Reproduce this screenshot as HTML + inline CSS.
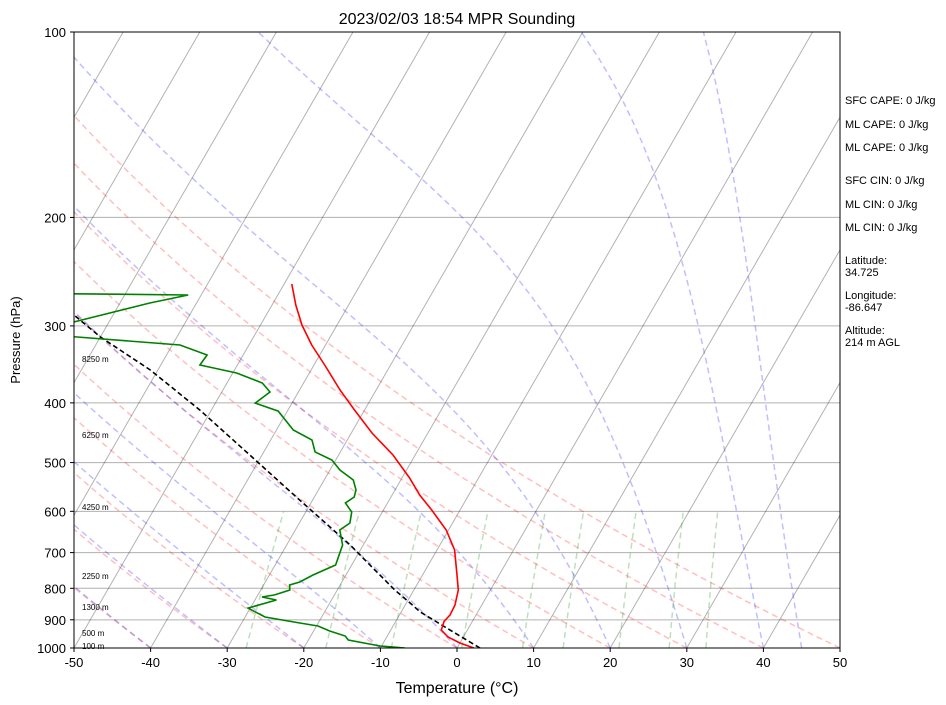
<!DOCTYPE html>
<html><head><meta charset="utf-8">
<style>
body{margin:0;background:#fff;font-family:"Liberation Sans","DejaVu Sans",sans-serif;}
svg{display:block}
</style></head>
<body>
<svg id="chart" width="946" height="705" viewBox="0 0 946 705" xmlns="http://www.w3.org/2000/svg">
<defs><clipPath id="plotclip"><rect x="74" y="32" width="766" height="616"/></clipPath></defs>
<rect x="0" y="0" width="946" height="705" fill="#fff"/>
<g id="bg" clip-path="url(#plotclip)"></g>
<g id="series" clip-path="url(#plotclip)"></g>
<rect x="74" y="32" width="766" height="616" fill="none" stroke="#000" stroke-width="1"/>
<g id="axes"></g>
<text x="457" y="24" text-anchor="middle" font-size="16">2023/02/03 18:54 MPR Sounding</text>
<text x="457" y="693" text-anchor="middle" font-size="16">Temperature (°C)</text>
<text transform="translate(20,340) rotate(-90)" text-anchor="middle" font-size="13">Pressure (hPa)</text>
<g font-size="11">
<text x="845" y="104">SFC CAPE: 0 J/kg</text>
<text x="845" y="128">ML CAPE: 0 J/kg</text>
<text x="845" y="151">ML CAPE: 0 J/kg</text>
<text x="845" y="184">SFC CIN: 0 J/kg</text>
<text x="845" y="208">ML CIN: 0 J/kg</text>
<text x="845" y="231">ML CIN: 0 J/kg</text>
<text x="845" y="264">Latitude:</text>
<text x="845" y="276">34.725</text>
<text x="845" y="299">Longitude:</text>
<text x="845" y="311">-86.647</text>
<text x="845" y="334">Altitude:</text>
<text x="845" y="346">214 m AGL</text>
</g>
<g font-size="8">
<text x="82" y="362">8250 m</text>
<text x="82" y="438">6250 m</text>
<text x="82" y="510">4250 m</text>
<text x="82" y="579">2250 m</text>
<text x="82" y="610">1300 m</text>
<text x="82" y="636">500 m</text>
<text x="82" y="649">100 m</text>
</g>
</svg>
<script>
const tempP = [256.5,277.4,298.9,322.2,347.2,381.3,410.9,447.7,486.0,529.7,564.5,597.0,643.3,693.3,761.3,805.0,851.6,884.0,905.0,935.0,959.7,981.5,1000];
const tempT = [-49.0,-46.9,-44.6,-41.8,-38.6,-34.7,-31.3,-27.3,-22.9,-19.0,-16.4,-13.7,-10.3,-7.7,-5.5,-4.2,-3.5,-3.4,-3.7,-3.4,-2.0,0.0,2.2];
const dewP = [265.3,267.3,275.4,295.6,309.3,322.2,334.5,347.2,357.7,371.3,384.1,400.3,412.5,442.7,459.6,480.6,495.2,514.1,533.7,554.0,568.7,581.6,601.5,626.8,643.3,680.5,733.3,761.3,781.4,790.1,805.0,820.1,826.3,835.7,861.3,890.7,910.9,921.0,938.5,956.1,970.5,992.5,1000];
const dewT = [-86.4,-61.7,-66.1,-74.6,-78.1,-59.0,-54.7,-54.9,-49.5,-45.4,-43.7,-44.8,-41.2,-37.8,-34.6,-33.3,-30.5,-28.7,-26.2,-25.1,-24.8,-25.5,-24.0,-23.4,-24.2,-22.7,-22.1,-24.3,-25.5,-26.6,-26.2,-27.8,-29.3,-27.2,-30.3,-27.4,-22.4,-19.8,-17.9,-15.5,-14.8,-10.2,-6.8];
const parcelP = [1000,945.5,907.5,874.2,845.5,805,747.0,680.5,575.1,486,410.9,353.7,312.7,288];
const parcelT = [3.0,-1.4,-4.6,-7.5,-9.5,-12.5,-16.6,-21.7,-31.7,-41.6,-51.5,-61,-70,-75.1];
const xTicks = [-50,-40,-30,-20,-10,0,10,20,30,40,50];
const pTicks = [100,200,300,400,500,600,700,800,900,1000];
const dryThetas = [-40,-30,-20,-10,0,10,20,30,40,50];
const moistStarts = [-40,-30,-20,-10,0,10,20,30,40,45];
const mixRatios = [0.0004,0.001,0.002,0.004,0.007,0.01,0.016,0.024,0.032];

const NS="http://www.w3.org/2000/svg";
const X0=74,X1=840,Y0=32,Y1=648,PX=(X1-X0)/100,SK=Math.tan(Math.PI/6);
function yOf(p){return Y1-Math.log10(1000/p)*(Y1-Y0);}
function xOf(t,p){return X0+(t+50)*PX+SK*(Y1-yOf(p));}
function mk(parent,tag,attrs){const e=document.createElementNS(NS,tag);for(const k in attrs)e.setAttribute(k,attrs[k]);parent.appendChild(e);return e;}
function line(parent,ps,ts,style,name){
  let d="";for(let i=0;i<ps.length;i++){d+=(i?"L":"M")+xOf(ts[i],ps[i]).toFixed(1)+","+yOf(ps[i]).toFixed(1);}
  const e=mk(parent,"path",Object.assign({d:d,fill:"none"},style));
  
  
  return e;
}
const bg=document.getElementById("bg"),ser=document.getElementById("series"),ax=document.getElementById("axes");
pTicks.forEach(p=>{const e=mk(bg,"line",{x1:X0,x2:X1,y1:yOf(p),y2:yOf(p),stroke:"#b0b0b0","stroke-width":1});
  
  });
for(let t=-150;t<=50;t+=10){line(bg,[1000,100],[t,t],{stroke:"#000","stroke-opacity":0.3,"stroke-width":1},"isotherm");}
const pl=[];for(let p=1000;p>=100;p-=10)pl.push(p);
dryThetas.forEach(th=>{const ts=pl.map(p=>(th+273.15)*Math.pow(p/1000,0.2857)-273.15);
  line(bg,pl,ts,{stroke:"#ff0000","stroke-opacity":0.25,"stroke-width":1.5,"stroke-dasharray":"6,4"},"dry-adiabat");});
function es(tc){return 6.112*Math.exp(17.67*tc/(tc+243.5));}
function dTdp(T,p){const Rd=287.04,Cp=1005.7,Lv=2.501e6,eps=0.622;const tc=T-273.15;const e=es(tc);const rs=eps*e/(p-e);
  return (1/p)*(Rd*T+Lv*rs)/(Cp+Lv*Lv*rs*eps/(Rd*T*T));}
moistStarts.forEach(t0=>{let T=t0+273.15;const ts=[t0];
  for(let i=1;i<pl.length;i++){const dp=pl[i]-pl[i-1];const n=5,h=dp/n;let p=pl[i-1];
    for(let k=0;k<n;k++){const k1=dTdp(T,p),k2=dTdp(T+h*k1/2,p+h/2),k3=dTdp(T+h*k2/2,p+h/2),k4=dTdp(T+h*k3,p+h);T+=h*(k1+2*k2+2*k3+k4)/6;p+=h;}
    ts.push(T-273.15);}
  line(bg,pl,ts,{stroke:"#0000ff","stroke-opacity":0.25,"stroke-width":1.5,"stroke-dasharray":"6,4"},"moist-adiabat");});
const mp=[1000,950,900,850,800,750,700,650,600];
mixRatios.forEach(w=>{const ts=mp.map(p=>{const e=w*p/(0.622+w);const l=Math.log(e/6.112);return 243.5*l/(17.67-l);});
  line(bg,mp,ts,{stroke:"#008000","stroke-opacity":0.25,"stroke-width":1.5,"stroke-dasharray":"6,4"},"mixing-ratio-line");});
line(ser,parcelP,parcelT,{stroke:"#000","stroke-width":1.6,"stroke-dasharray":"5,3"},"parcel-profile");
line(ser,dewP,dewT,{stroke:"#008000","stroke-width":1.6},"dewpoint-line");
line(ser,tempP,tempT,{stroke:"#ff0000","stroke-width":1.6},"temperature-line");
xTicks.forEach(t=>{const x=X0+(t+50)*PX;
  const tk=mk(ax,"line",{x1:x,x2:x,y1:Y1,y2:Y1+4,stroke:"#000"});
  
  
  const tx=mk(ax,"text",{x:x,y:Y1+19,"text-anchor":"middle","font-size":13});tx.textContent=t;
  
  });
pTicks.forEach(p=>{const y=yOf(p);
  const tk=mk(ax,"line",{x1:X0-4,x2:X0,y1:y,y2:y,stroke:"#000"});
  
  
  const tx=mk(ax,"text",{x:X0-8,y:y+5,"text-anchor":"end","font-size":13});tx.textContent=p;
  
  });
</script>
</body></html>
